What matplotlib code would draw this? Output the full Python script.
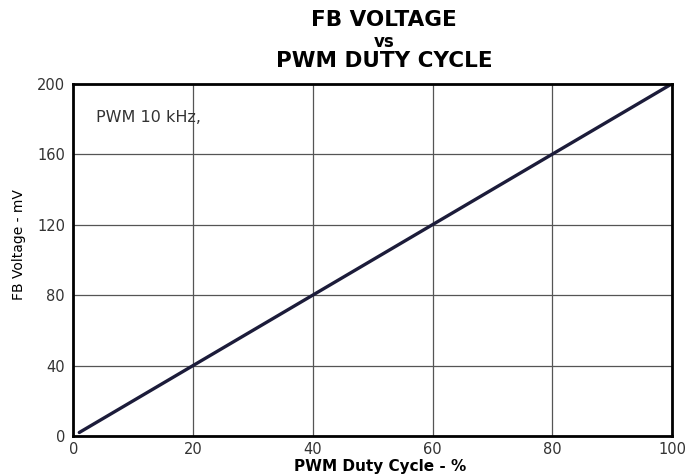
import matplotlib
matplotlib.use("Agg")
import matplotlib.pyplot as plt

duty = [1, 100]
voltage = [2, 200]
xticks = [0, 20, 40, 60, 80, 100]
yticks = [0, 40, 80, 120, 160, 200]

plt.rcParams['font.family'] = ['DejaVu Sans']

fig = plt.figure(figsize=(6.85, 4.76), dpi=100)
ax = fig.add_axes([0.107, 0.084, 0.874, 0.740])
ax.plot(duty, voltage, color='#1c1c3a', lw=2.4, solid_capstyle='round')
ax.set_xlim(0, 100)
ax.set_ylim(0, 200)
ax.set_xticks(xticks)
ax.set_yticks(yticks)
ax.grid(True, color='#555555', lw=0.9)
ax.set_axisbelow(True)
for s in ax.spines.values():
    s.set_linewidth(2)
    s.set_color('black')
ax.tick_params(length=0, labelsize=10.5, colors='#333333')
ax.tick_params(axis='y', pad=6)
ax.tick_params(axis='x', pad=4)
ax.set_xlabel('PWM Duty Cycle - %', fontsize=11, fontweight='bold')
ax.xaxis.set_label_coords(0.513, -0.064)
ax.xaxis.label.set_va('top')
ax.set_ylabel('FB Voltage - mV', fontsize=10)
ax.yaxis.set_label_coords(-0.079, 0.544)
ax.text(3.8, 181, 'PWM 10 kHz,', fontsize=11.5, color='#333333', va='center')
fig.text(0.561, 0.958, 'FB VOLTAGE', ha='center', va='center', fontsize=15.5, fontweight='bold')
fig.text(0.561, 0.912, 'vs', ha='center', va='center', fontsize=12, fontweight='bold')
fig.text(0.561, 0.872, 'PWM DUTY CYCLE', ha='center', va='center', fontsize=15.5, fontweight='bold')
fig.savefig('out.png', dpi=100)
